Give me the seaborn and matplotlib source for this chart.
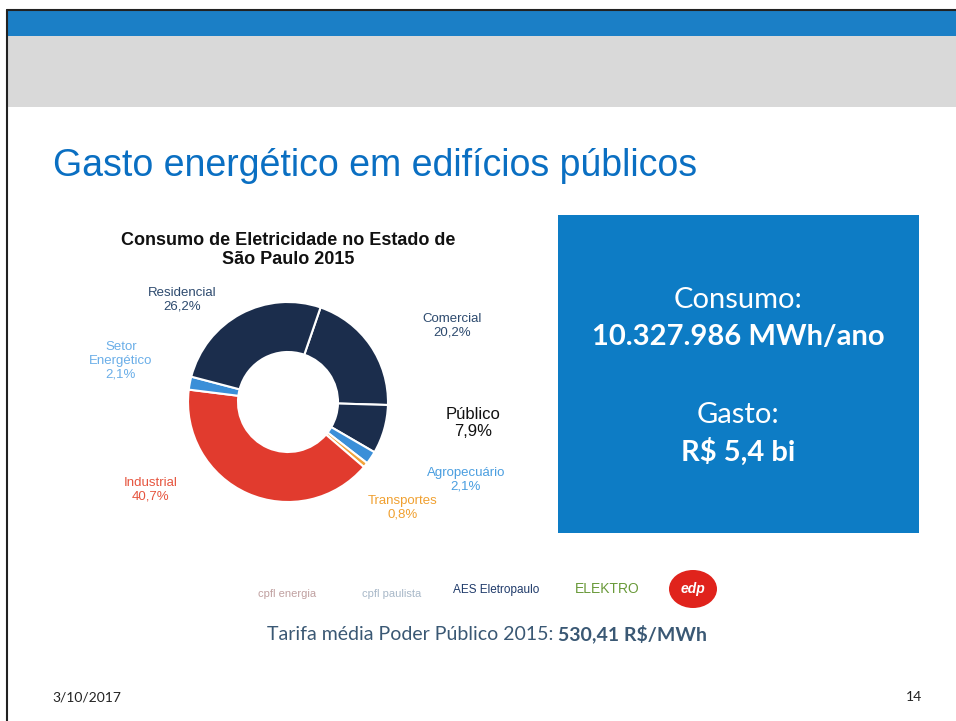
import matplotlib.pyplot as plt
import matplotlib.patches as mpatches
import seaborn as sns

sns.set_style("white")
plt.rcParams['font.family'] = ['Liberation Sans', 'DejaVu Sans']

# dados do grafico (clockwise, a partir do Comercial)
setores = ["Comercial", "Público", "Agropecuário", "Transportes", "Industrial", "Setor\nEnergético", "Residencial"]
percentuais = [20.2, 7.9, 2.1, 0.8, 40.7, 2.1, 26.2]
navy = "#1b2d4c"
cores = [navy, navy, "#3b8fd8", "#f2a23a", "#e13b2e", "#3b8fd8", navy]
cores_texto = ["#2d4a6e", "#111111", "#4a9ee0", "#f0a030", "#e6553f", "#6aaee8", "#2d4a6e"]

consumo = "10.327.986 MWh/ano"
gasto = "R$ 5,4 bi"
tarifa = "530,41 R$/MWh"
data_slide = "3/10/2017"
pagina = "14"

W, H = 956, 721
fig = plt.figure(figsize=(W / 100, H / 100), dpi=100)
fig.patch.set_facecolor("white")

# fundo em pixels
bg = fig.add_axes([0, 0, 1, 1])
bg.set_xlim(0, W)
bg.set_ylim(H, 0)
bg.axis("off")

# faixa azul e cinza do topo
bg.add_patch(mpatches.Rectangle((7, 11), W, 25, color="#1b7fc6", lw=0))
bg.add_patch(mpatches.Rectangle((7, 36), W, 71, color="#d9d9d9", lw=0))
bg.plot([7, W], [10, 10], color="#222222", lw=1.5)
bg.plot([7, 7], [10, H], color="#222222", lw=1.5)

bg.text(53, 166, "Gasto energético em edifícios públicos", fontsize=27,
        color="#0a6fc2", va="center", ha="left")

# titulo do grafico
bg.text(288, 250, "Consumo de Eletricidade no Estado de\nSão Paulo 2015", fontsize=13,
        fontweight="bold", ha="center", va="center", color="#111111", linespacing=1.2)

# rosca
ax = fig.add_axes([188 / W, (H - 502) / H, 200 / W, 200 / H])
ax.pie(percentuais, colors=cores, startangle=71, counterclock=False, radius=1,
       wedgeprops=dict(width=0.5, edgecolor="white", linewidth=1.5))
ax.set_xlim(-1, 1)
ax.set_ylim(-1, 1)
ax.set_aspect("auto")
ax.axis("off")

pos_rotulos = [(452, 326), (473, 423), (466, 480), (403, 508), (151, 490), (121, 361), (182, 300)]
for nome, p, c, (x, y) in zip(setores, percentuais, cores_texto, pos_rotulos):
    fs = 12 if nome == "Público" else 9.5
    bg.text(x, y, f"{nome}\n{p:.1f}%".replace(".", ","), fontsize=fs, color=c,
            ha="center", va="center", linespacing=1.2)

# caixa azul
bg.add_patch(mpatches.Rectangle((558, 215), 361, 318, color="#0d7cc5", lw=0))
bg.text(738, 300, "Consumo:", fontsize=21, color="white", ha="center", va="center", family="Lato")
bg.text(738, 337, consumo, fontsize=21, color="white", ha="center", va="center",
        family="Lato", fontweight="bold")
bg.text(738, 415, "Gasto:", fontsize=21, color="white", ha="center", va="center", family="Lato")
bg.text(738, 452, gasto, fontsize=21, color="white", ha="center", va="center",
        family="Lato", fontweight="bold")

# logos (aproximacao em texto)
bg.text(287, 594, "cpfl energia", fontsize=8, color="#c0a0a0", ha="center", va="center")
bg.text(392, 594, "cpfl paulista", fontsize=8, color="#a8b8c8", ha="center", va="center")
bg.text(496, 590, "AES Eletropaulo", fontsize=8.5, color="#1f3a6a", ha="center", va="center")
bg.text(607, 589, "ELEKTRO", fontsize=10, color="#6a9a3a", ha="center", va="center")
bg.add_patch(mpatches.Ellipse((693, 589), 48, 38, color="#e0231c", lw=0))
bg.text(693, 589, "edp", fontsize=10, color="white", ha="center", va="center",
        fontweight="bold", style="italic")

bg.text(553, 634, "Tarifa média Poder Público 2015:", fontsize=14, color="#3a5874",
        ha="right", va="center", family="Lato")
bg.text(558, 634, tarifa, fontsize=14, color="#3a5874", ha="left", va="center",
        family="Lato", fontweight="bold")

bg.text(52, 697, data_slide, fontsize=10, color="#222222", ha="left", va="center", family="Lato")
bg.text(922, 697, pagina, fontsize=10, color="#222222", ha="right", va="center", family="Lato")

plt.savefig("out.png", dpi=100)
